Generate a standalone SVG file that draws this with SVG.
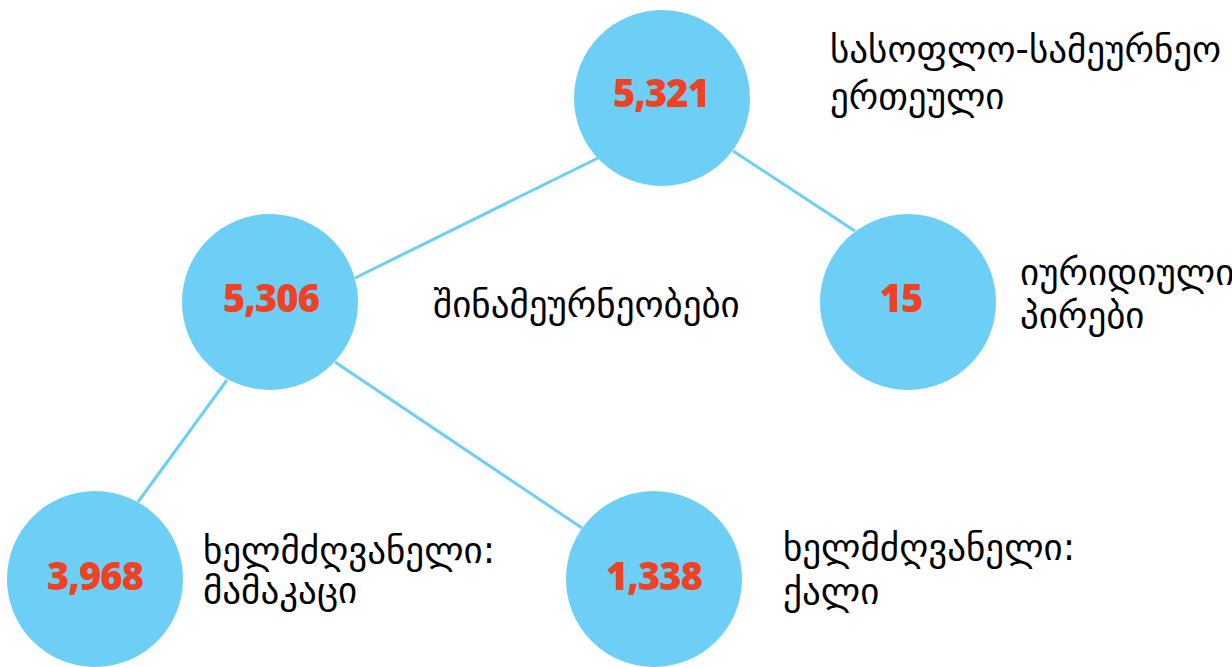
<svg xmlns="http://www.w3.org/2000/svg" width="1232" height="667" viewBox="0 0 1232 667">
<style>
.c{fill:#6DCFF6}
.e{stroke:#6DCFF6;stroke-width:3;fill:none}
.n{font-family:"Open Sans","Noto Sans",sans-serif;font-weight:800;font-size:38px;letter-spacing:-1px;fill:#EF4123;text-anchor:middle}
.t{font-family:"DejaVu Sans",sans-serif;font-size:37px;fill:#000}
</style>
<rect width="1232" height="667" fill="#fff"/>
<g id="connectors">
<line class="e" x1="598" y1="158" x2="355" y2="278"/>
<line class="e" x1="733" y1="151" x2="855" y2="231"/>
<line class="e" x1="227" y1="380" x2="138" y2="502"/>
<line class="e" x1="335" y1="362" x2="582" y2="528"/>
</g>
<g id="n1"><circle class="c" cx="662" cy="98" r="88"/><text class="n" x="661" y="107">5,321</text>
<text class="t" x="830" y="62">სასოფლო-სამეურნეო</text><text class="t" x="830" y="109">ერთეული</text></g>
<g id="n2"><circle class="c" cx="270" cy="302" r="88"/><text class="n" x="271" y="312">5,306</text>
<text class="t" x="433" y="317">შინამეურნეობები</text></g>
<g id="n3"><circle class="c" cx="908" cy="302" r="88"/><text class="n" x="901" y="312">15</text>
<text class="t" x="1020" y="285">იურიდიული</text><text class="t" x="1020" y="328">პირები</text></g>
<g id="n4"><circle class="c" cx="95" cy="579" r="88"/><text class="n" x="95" y="590">3,968</text>
<text class="t" x="203" y="563">ხელმძღვანელი:</text><text class="t" x="203" y="603">მამაკაცი</text></g>
<g id="n5"><circle class="c" cx="654" cy="579" r="88"/><text class="n" x="654" y="590">1,338</text>
<text class="t" x="783" y="560">ხელმძღვანელი:</text><text class="t" x="783" y="604">ქალი</text></g>
</svg>
